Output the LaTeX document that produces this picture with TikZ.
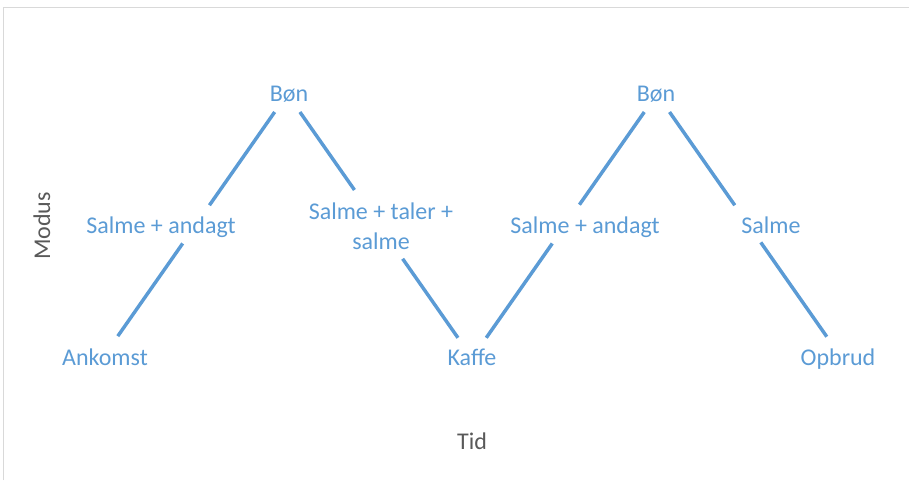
\documentclass[tikz,border=0pt]{standalone}
\usepackage{fontspec}
\setmainfont{Carlito}
\definecolor{modblue}{HTML}{5B9BD5}
\definecolor{axgray}{HTML}{595959}
\definecolor{framegray}{HTML}{D9D9D9}

\begin{document}
\begin{tikzpicture}[x=0.75pt,y=0.75pt,
  curve/.style={draw=modblue,line width=2.6pt},
  lbl/.style={text=modblue,font=\fontsize{18}{22.5}\selectfont,inner sep=0pt},
  axlbl/.style={text=axgray,font=\fontsize{18}{22.5}\selectfont,inner sep=0pt}]
\useasboundingbox (0,0) rectangle (909,480);
\pgfmathsetmacro{\lo}{122}
\pgfmathsetmacro{\mi}{254}
\pgfmathsetmacro{\hi}{386}

% chart frame (only top and left edge visible)
\draw[framegray,line width=0.9pt] (3.5,0)--(3.5,472.5)--(909,472.5);

\path (102.5,\lo) coordinate (P0) (194.9,\mi) coordinate (P1) (287.3,\hi) coordinate (P2)
(379.7,\mi) coordinate (P3) (472.1,\lo) coordinate (P4) (564.5,\mi) coordinate (P5)
(656.9,\hi) coordinate (P6) (749.3,\mi) coordinate (P7) (841.7,\lo) coordinate (P8);

\draw[curve,shorten <=20pt,shorten >=16pt] (P0)--(P1);
\draw[curve,shorten <=19pt,shorten >=16.5pt] (P1)--(P2);
\draw[curve,shorten <=16.5pt,shorten >=33pt] (P2)--(P3);
\draw[curve,shorten <=30pt,shorten >=18.5pt] (P3)--(P4);
\draw[curve,shorten <=18.5pt,shorten >=16pt] (P4)--(P5);
\draw[curve,shorten <=19.5pt,shorten >=16.5pt] (P5)--(P6);
\draw[curve,shorten <=16.5pt,shorten >=19pt] (P6)--(P7);
\draw[curve,shorten <=15pt,shorten >=19.5pt] (P7)--(P8);

\node[lbl,anchor=base] (ankomst) at (105,115) {Ankomst};
\node[lbl,anchor=base] (andagtA) at (161,247) {Salme + andagt};
\node[lbl,anchor=base] (bonA) at (289,379) {Bøn};
\node[lbl,align=center] (taler) at (381,254) {Salme + taler +\\salme};
\node[lbl,anchor=base] (kaffe) at (472,115) {Kaffe};
\node[lbl,anchor=base] (andagtB) at (585,247) {Salme + andagt};
\node[lbl,anchor=base] (bonB) at (656,379) {Bøn};
\node[lbl,anchor=base] (salme) at (771,247) {Salme};
\node[lbl,anchor=base] (opbrud) at (838,115) {Opbrud};

\node[axlbl,rotate=90] (modus) at (42,254) {Modus};
\node[axlbl] (tid) at (472,39) {Tid};

\end{tikzpicture}
\end{document}
